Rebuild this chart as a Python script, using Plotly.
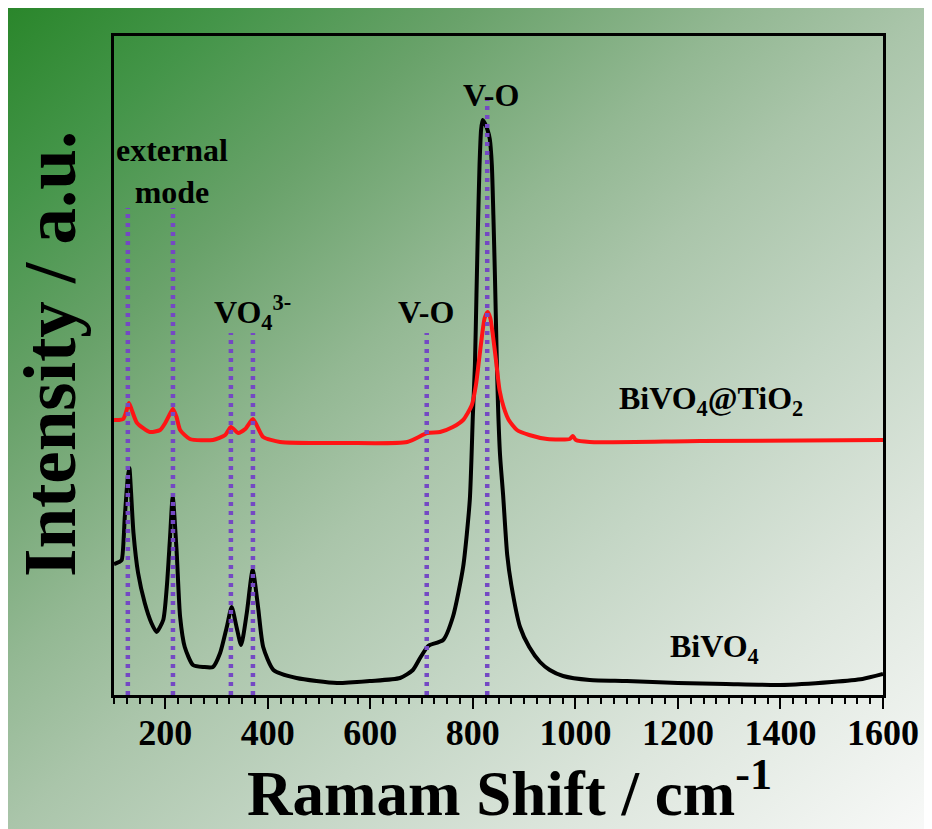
import base64
import plotly.graph_objects as go

# ---- data (intensity in arbitrary units) ----
bivo4_x = [100, 110, 115, 121, 127, 130, 133, 138, 147, 160, 173, 183, 196, 203, 209, 214.5,
           222, 229, 238, 254, 275, 293, 307, 320, 329.5, 339, 348, 359, 370.5, 381, 391, 411,
           456, 535, 599, 658, 683, 697, 711, 716, 742, 761, 781, 794, 800, 804, 807, 810, 813,
           816, 819, 823, 828, 833, 837, 840, 843, 846, 849, 853, 859, 867, 875, 892, 910, 931,
           950, 976, 1028, 1100, 1200, 1294, 1399, 1500, 1560, 1600]
bivo4_y = [131, 133, 135, 178, 218, 227, 205, 162, 122, 92, 72, 63, 75, 108, 155, 198,
           145, 78, 48, 30, 28, 28, 42, 68, 88, 68, 50, 82, 125, 88, 48, 25,
           17, 12, 14, 17, 25, 37, 48, 50, 55, 78, 128, 195, 280, 330, 400, 470, 530,
           565, 575, 572, 566, 556, 530, 480, 420, 350, 290, 240, 200, 140, 110, 68, 48, 33,
           25, 19, 15, 14, 12, 11, 10, 13, 16, 21]

tio2_x = [100, 110, 118, 123, 129, 134, 145, 170, 190, 200, 208, 215, 222, 229, 248, 293, 317,
          328, 342, 356, 371, 380, 391, 424, 554, 672, 711, 736, 761, 781, 790, 798, 806, 812,
          818, 823, 829, 834, 839, 845, 852, 860, 870, 886, 910, 945, 989, 995, 1001, 1028,
          1243, 1600]
tio2_y = [275, 275, 276, 282, 292, 286, 272, 263, 265, 272, 280, 286, 278, 265, 256, 255, 260,
          268, 262, 266, 276, 268, 258, 253, 252, 253, 262, 263, 268, 275, 282, 290, 310, 335,
          360, 377, 383, 377, 360, 335, 305, 288, 275, 265, 260, 256, 256, 259, 255, 253,
          254, 255]

# dotted guide lines: peak positions and the height where each line starts
guide_x = [127, 215, 328, 371, 710, 828]
guide_top = [487, 487, 362, 362, 362, 598]

# peak labels
label_text = ["external<br>mode", "VO<sub>4</sub><sup>3-</sup>", "V-O", "V-O",
              "BiVO<sub>4</sub>@TiO<sub>2</sub>", "BiVO<sub>4</sub>"]
label_x = [213, 371, 708, 835, 1264, 1272]
label_y = [524, 383, 383, 600, 295, 47]

x_tickvals = [200, 400, 600, 800, 1000, 1200, 1400, 1600]
x_title = "Ramam Shift / cm<sup>-1</sup>"
y_title = "Intensity / a.u."

FONT = "Liberation Serif, Times New Roman, serif"

# figure is placed by the page at (8, 8); sizes below are in figure pixels
W, H = 924, 821
L, R, T, B = 106, 875, 28, 687
pw, ph = R - L, B - T

fig = go.Figure()

fig.add_trace(go.Scatter(x=bivo4_x, y=bivo4_y, mode="lines", name="BiVO4",
                         line=dict(color="#000000", width=4, shape="spline", smoothing=0.6)))
fig.add_trace(go.Scatter(x=tio2_x, y=tio2_y, mode="lines", name="BiVO4@TiO2",
                         line=dict(color="#ff1414", width=4, shape="spline", smoothing=0.6)))

for gx, gt in zip(guide_x, guide_top):
    fig.add_trace(go.Scatter(x=[gx, gx], y=[0, gt], mode="lines", showlegend=False,
                             line=dict(color="#7448c4", width=4.5, dash="4px,5px")))

for t, lx, ly in zip(label_text, label_x, label_y):
    fig.add_annotation(x=lx, y=ly, text=t, showarrow=False, xref="x", yref="y",
                       font=dict(family=FONT, size=32, color="black", weight="bold"))

# axis titles as annotations for exact placement
fig.add_annotation(x=(501 - L) / pw, y=(B - 781) / ph, xref="paper", yref="paper",
                   text=x_title, showarrow=False, xanchor="center", yanchor="middle",
                   font=dict(family=FONT, size=63, color="black", weight="bold"))
fig.add_annotation(x=(42 - L) / pw, y=(B - 346) / ph, xref="paper", yref="paper",
                   text=y_title, showarrow=False, textangle=-90,
                   xanchor="center", yanchor="middle",
                   font=dict(family=FONT, size=73, color="black", weight="bold"))

# gradient background as an SVG image behind the figure
svg = (
    '<svg xmlns="http://www.w3.org/2000/svg" width="924" height="821" viewBox="0 0 924 821" '
    'preserveAspectRatio="none">'
    '<defs><linearGradient id="g" x1="0" y1="0" x2="1" y2="1">'
    '<stop offset="0" stop-color="#2a862b"/>'
    '<stop offset="0.12" stop-color="#449549"/>'
    '<stop offset="0.25" stop-color="#69a26a"/>'
    '<stop offset="0.4" stop-color="#93b893"/>'
    '<stop offset="0.5" stop-color="#aac5aa"/>'
    '<stop offset="0.65" stop-color="#c4d6c5"/>'
    '<stop offset="0.8" stop-color="#dde6dd"/>'
    '<stop offset="1" stop-color="#f8f9f8"/>'
    '</linearGradient></defs>'
    '<rect x="0" y="0" width="924" height="821" fill="url(#g)"/></svg>'
)
src = "data:image/svg+xml;base64," + base64.b64encode(svg.encode()).decode()

fig.add_layout_image(dict(source=src, xref="paper", yref="paper",
                          x=-L / pw, y=B / ph, sizex=W / pw, sizey=H / ph,
                          sizing="stretch", xanchor="left", yanchor="top",
                          layer="below", opacity=1))

fig.update_layout(
    width=W, height=H,
    margin=dict(l=L, r=W - R, t=T, b=H - B, pad=0),
    paper_bgcolor="white", plot_bgcolor="rgba(0,0,0,0)",
    showlegend=False,
    font=dict(family=FONT, color="black"),
)

fig.update_xaxes(
    range=[100, 1600], tickvals=x_tickvals, ticks="outside", ticklen=11, tickwidth=2,
    tickcolor="black", showline=True, linewidth=2.5, linecolor="black", mirror=True,
    showgrid=False, zeroline=False, ticklabelstandoff=-7,
    tickfont=dict(family=FONT, size=36, color="black", weight="bold"),
    minor=dict(dtick=25, tick0=0, ticks="outside", ticklen=6, tickwidth=1.5, tickcolor="black"),
)
fig.update_yaxes(
    range=[0, 659], showticklabels=False, ticks="", showline=True, linewidth=2.5,
    linecolor="black", mirror=True, showgrid=False, zeroline=False,
)

fig.write_html("out.html")
